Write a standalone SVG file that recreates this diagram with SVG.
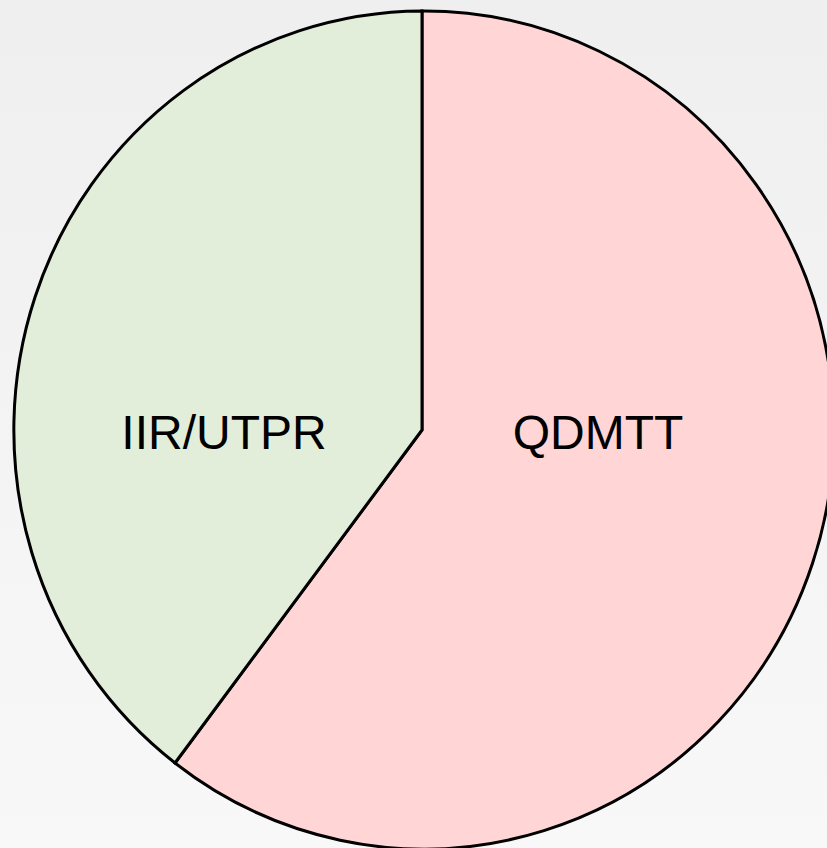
<svg xmlns="http://www.w3.org/2000/svg" width="827" height="848" viewBox="0 0 827 848">
<style>
.slice{stroke:#000;stroke-width:3;stroke-linejoin:miter}
.lbl{font-family:"Liberation Sans",Arial,sans-serif;font-size:48px;fill:#000;text-anchor:middle}
</style>
<defs>
<linearGradient id="bg" x1="0" y1="0" x2="0" y2="1">
<stop offset="0" stop-color="#efefef"/>
<stop offset="1" stop-color="#f8f8f8"/>
</linearGradient>
</defs>
<rect width="827" height="848" fill="url(#bg)"/>
<g id="qdmtt">
<path class="slice" d="M422,430 L422,11 A410,419 0 1 1 175,763 Z" fill="#ffd5d6"/>
<text class="lbl" x="598" y="449">QDMTT</text>
</g>
<g id="iir">
<path class="slice" d="M422,430 L175,763 A410,419 0 0 1 422,11 Z" fill="#e2eed9"/>
<text class="lbl" x="224" y="449">IIR/UTPR</text>
</g>
</svg>
